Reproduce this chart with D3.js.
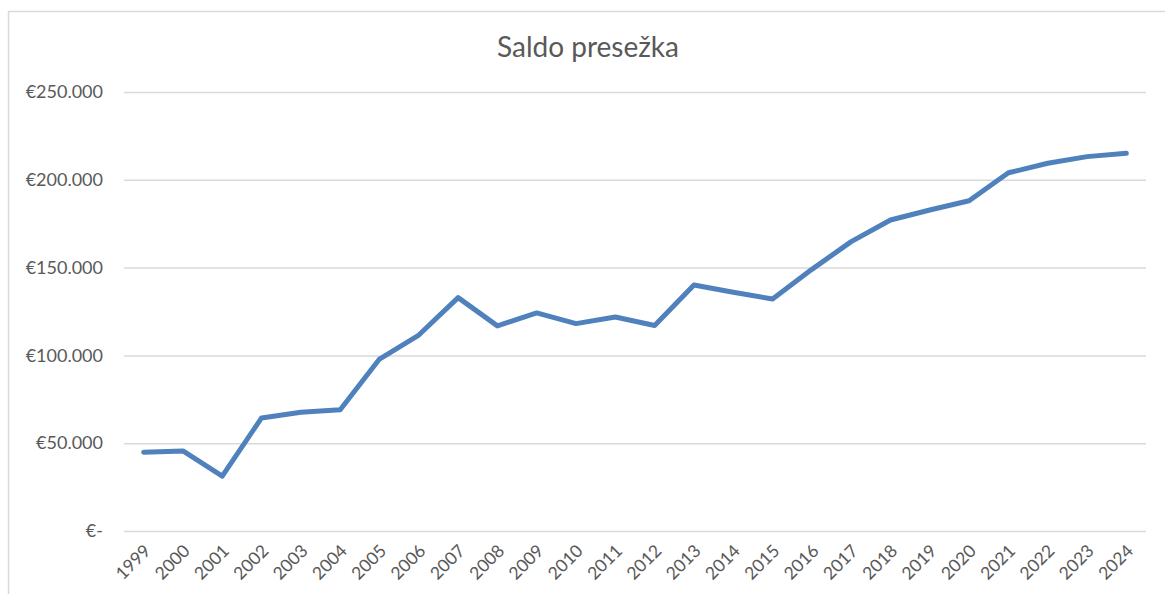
<!DOCTYPE html>
<html lang="sl">
<head>
    <meta charset="UTF-8">
    <title>Saldo presežka</title>
    <script src="https://d3js.org/d3.v7.min.js"></script>
    <style>
        body {
            margin: 0;
            background: #fff;
            font-family: Lato, "Open Sans", sans-serif;
        }
        svg { display: block; }
    </style>
</head>
<body>
    <svg width="1165" height="594"></svg>
    <script>
        // data
        const years = ["1999", "2000", "2001", "2002", "2003", "2004", "2005", "2006", "2007",
                       "2008", "2009", "2010", "2011", "2012", "2013", "2014", "2015", "2016",
                       "2017", "2018", "2019", "2020", "2021", "2022", "2023", "2024"];
        const saldo = [44900, 45600, 31300, 64400, 67600, 69000, 97900, 111600, 132900,
                       116800, 124200, 118100, 121900, 117000, 140100, 136000, 132100, 149000,
                       164800, 177100, 182800, 188100, 204000, 209400, 213200, 215100];
        const yTicks = [0, 50000, 100000, 150000, 200000, 250000];

        const svg = d3.select("svg"),
              width = +svg.attr("width"),
              height = +svg.attr("height");

        const margin = {top: 92, right: 19, bottom: 63, left: 124};

        // chart frame (right and bottom edges fall outside the picture)
        svg.append("rect")
            .attr("x", 8.5).attr("y", 11.5)
            .attr("width", width + 20).attr("height", height + 20)
            .attr("fill", "none")
            .attr("stroke", "#d9d9d9")
            .attr("stroke-width", 1.5);

        svg.append("text")
            .attr("x", 588).attr("y", 57)
            .attr("text-anchor", "middle")
            .attr("fill", "#595959")
            .attr("font-size", 28)
            .text("Saldo presežka");

        const x = d3.scaleBand()
            .domain(years)
            .range([margin.left, width - margin.right]);

        const y = d3.scaleLinear()
            .domain([0, 250000])
            .range([height - margin.bottom, margin.top]);

        const fmt = v => v === 0 ? "€-" : "€" + d3.format(",")(v).replace(/,/g, ".");

        // y axis: gridlines + labels, no domain line
        const yAxis = svg.append("g")
            .attr("transform", `translate(${margin.left},0)`)
            .call(d3.axisLeft(y).tickValues(yTicks).tickFormat(fmt)
                .tickSize(-(width - margin.right - margin.left)).tickPadding(21));
        yAxis.select(".domain").remove();
        yAxis.selectAll(".tick line").attr("stroke", "#d9d9d9").attr("stroke-width", 1.5);
        yAxis.selectAll(".tick text")
            .attr("fill", "#595959")
            .attr("font-size", 18)
            .attr("font-family", "Lato, 'Open Sans', sans-serif");

        // x axis: rotated year labels
        const xAxis = svg.append("g")
            .attr("transform", `translate(0,${height - margin.bottom})`)
            .call(d3.axisBottom(x).tickSize(0).tickPadding(0));
        xAxis.select(".domain").remove();
        xAxis.selectAll(".tick text")
            .attr("fill", "#595959")
            .attr("font-size", 17.5)
            .attr("font-family", "Lato, 'Open Sans', sans-serif")
            .attr("text-anchor", "end")
            .attr("dy", null)
            .attr("transform", "translate(8,21) rotate(-45)");

        const line = d3.line()
            .x((d, i) => x(years[i]) + x.bandwidth() / 2)
            .y(d => y(d));

        svg.append("path")
            .datum(saldo)
            .attr("fill", "none")
            .attr("stroke", "#4f81bd")
            .attr("stroke-width", 5)
            .attr("stroke-linejoin", "round")
            .attr("stroke-linecap", "round")
            .attr("d", line);
    </script>
</body>
</html>
